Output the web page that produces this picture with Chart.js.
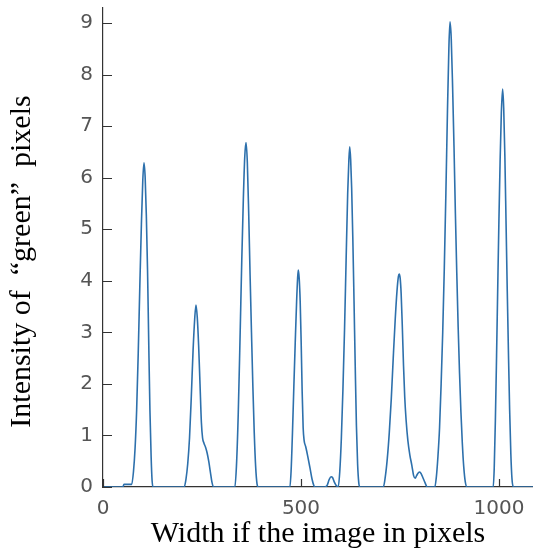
<!DOCTYPE html>
<html>
<head>
<meta charset="utf-8">
<script src="https://cdn.jsdelivr.net/npm/chart.js@4.4.0/dist/chart.umd.min.js"></script>
<style>
  html, body { margin: 0; padding: 0; background: #fff; }
</style>
</head>
<body>
<canvas id="chart" width="533" height="555"></canvas>
<script>
// green intensity profile across the image width
const widthPx = [
  0, 50, 53, 72.5,
  77, 81, 85, 89, 93, 97, 100.5, 103.5, 106.5, 109.5, 112.5, 115.5, 118.5, 121.5, 124, 126.5,
  205, 209.5, 214, 218.5, 223, 227.5, 231.5, 234.8, 238, 241.5, 245, 248.5, 251.5, 255, 259, 263, 267, 271, 275, 279,
  333, 337, 341.5, 346, 350.5, 354.5, 358, 361.1, 364.5, 368, 371.5, 375, 378.5, 382, 385.5, 389, 392.2,
  472, 475, 478.5, 482, 485.5, 489, 491.5, 493.2, 495.5, 498, 500.5, 503, 505.5, 508, 512, 517, 522.5, 528, 533, 536,
  560, 566, 571, 576, 580, 584, 589, 594,
  598, 602, 606, 610, 614, 618, 621, 623.2, 625.5, 628, 631, 634, 637, 640, 643, 646, 648.5,
  708, 713, 718, 723, 728, 733, 738, 742.5, 746, 748.2, 750.5, 753, 756, 759, 762, 765.5, 770, 775, 780, 784.5,
  788.5, 792, 796, 800, 804, 808, 813, 819,
  838, 842, 846, 850, 854, 858, 862, 866, 870, 873.5, 876.3,
  879.5, 883, 886.5, 890, 893.5, 897, 900.5, 904, 907.5, 911, 915, 919.5,
  985.5, 988, 991, 994, 997, 1000, 1003, 1006, 1009.3, 1012, 1015, 1018, 1021, 1024, 1027, 1030, 1033, 1036.5,
  1086
];
const intensity = [
  0, 0, 0.05, 0.05,
  0.3, 0.75, 1.5, 2.6, 3.9, 5.1, 5.95, 6.29, 6.0, 5.25, 4.2, 2.8, 1.5, 0.6, 0.12, 0,
  0, 0.15, 0.45, 0.95, 1.75, 2.65, 3.25, 3.53, 3.3, 2.75, 2.0, 1.25, 0.95, 0.85, 0.77, 0.66, 0.5, 0.3, 0.1, 0,
  0, 0.4, 1.4, 2.85, 4.4, 5.6, 6.4, 6.68, 6.3, 5.3, 4.1, 3.0, 1.95, 1.05, 0.4, 0.06, 0,
  0, 0.3, 1.05, 1.95, 2.8, 3.6, 4.05, 4.21, 4.05, 3.6, 2.8, 1.85, 1.15, 0.9, 0.78, 0.6, 0.38, 0.15, 0.02, 0,
  0, 0.03, 0.14, 0.2, 0.18, 0.1, 0.03, 0,
  0.3, 0.95, 1.9, 3.05, 4.4, 5.7, 6.35, 6.6, 6.35, 5.8, 4.8, 3.6, 2.35, 1.2, 0.45, 0.08, 0,
  0, 0.2, 0.55, 1.05, 1.7, 2.5, 3.25, 3.8, 4.08, 4.13, 4.05, 3.75, 3.1, 2.35, 1.75, 1.3, 0.9, 0.62, 0.42, 0.22,
  0.17, 0.22, 0.27, 0.29, 0.25, 0.18, 0.09, 0,
  0, 0.2, 0.6, 1.15, 2.0, 3.0, 4.25, 5.7, 7.3, 8.5, 9.02,
  8.7, 7.75, 6.6, 5.3, 4.15, 3.1, 2.2, 1.45, 0.85, 0.4, 0.1, 0,
  0, 0.35, 1.3, 2.55, 3.9, 5.2, 6.35, 7.25, 7.72, 7.35, 6.4, 5.1, 3.8, 2.6, 1.5, 0.65, 0.15, 0,
  0
];
const xTicks = [0, 500, 1000];
const yTicks = [0, 1, 2, 3, 4, 5, 6, 7, 8, 9];

const xTitle = 'Width if the image in pixels';
const yTitle = 'Intensity of  \u201Cgreen\u201D  pixels';

const points = widthPx.map((x, i) => ({ x: x, y: intensity[i] }));

const axisColor = '#333';
const tickFont = { family: 'DejaVu Sans', size: 20 };
const titleFont = { family: 'Liberation Serif', size: 30 };

// short tick marks pointing into the plot, plus the rotated y title
const axisExtras = {
  id: 'axisExtras',
  afterDraw(chart) {
    const { ctx, chartArea, scales } = chart;
    const x = scales.x, y = scales.y;
    ctx.save();
    ctx.strokeStyle = axisColor;
    ctx.lineWidth = 1.2;
    ctx.beginPath();
    y.ticks.forEach(t => {
      const py = Math.round(y.getPixelForValue(t.value)) + 0.5;
      ctx.moveTo(chartArea.left, py);
      ctx.lineTo(chartArea.left + 9, py);
    });
    x.ticks.forEach(t => {
      const px = Math.round(x.getPixelForValue(t.value)) + 0.5;
      ctx.moveTo(px, chartArea.bottom);
      ctx.lineTo(px, chartArea.bottom - 8);
    });
    ctx.stroke();

    ctx.translate(22, (chartArea.top + chartArea.bottom) / 2 + 14);
    ctx.rotate(-Math.PI / 2);
    ctx.fillStyle = '#000';
    ctx.font = titleFont.size + 'px "' + titleFont.family + '"';
    ctx.textAlign = 'center';
    ctx.textBaseline = 'middle';
    ctx.fillText(yTitle, 0, 0);
    ctx.restore();
  }
};

const ctx = document.getElementById('chart').getContext('2d');
const chart = new Chart(ctx, {
  type: 'line',
  data: {
    datasets: [{
      data: points,
      borderColor: 'rgb(45, 112, 172)',
      borderWidth: 1.6,
      pointRadius: 0,
      fill: false,
      cubicInterpolationMode: 'monotone'
    }]
  },
  options: {
    responsive: false,
    animation: false,
    devicePixelRatio: 1,
    layout: { autoPadding: false, padding: { top: 8, left: 0, right: 0, bottom: 0 } },
    plugins: {
      legend: { display: false },
      tooltip: { enabled: false }
    },
    scales: {
      x: {
        type: 'linear',
        min: 0,
        max: 1086,
        afterBuildTicks: s => { s.ticks = xTicks.map(v => ({ value: v })); },
        afterFit: s => {
          s.height = 68;
          s.paddingLeft = 0;
          s.paddingRight = 0;
        },
        grid: { display: false, drawTicks: false },
        border: { display: true, color: axisColor, width: 1.2 },
        ticks: { font: tickFont, color: '#555', padding: 10, maxRotation: 0, callback: v => String(v) },
        title: {
          display: true,
          text: xTitle,
          font: titleFont,
          color: '#000',
          padding: { top: 0, bottom: 3 }
        }
      },
      y: {
        type: 'linear',
        min: 0,
        max: 9.29,
        afterBuildTicks: s => { s.ticks = yTicks.map(v => ({ value: v })); },
        afterFit: s => {
          s.width = 103;
          s.paddingTop = 0;
          s.paddingBottom = 0;
        },
        grid: { display: false, drawTicks: false },
        border: { display: true, color: axisColor, width: 1.2 },
        ticks: { font: tickFont, color: '#555', padding: 10, callback: v => String(v) }
      }
    }
  },
  plugins: [axisExtras]
});
</script>
</body>
</html>
